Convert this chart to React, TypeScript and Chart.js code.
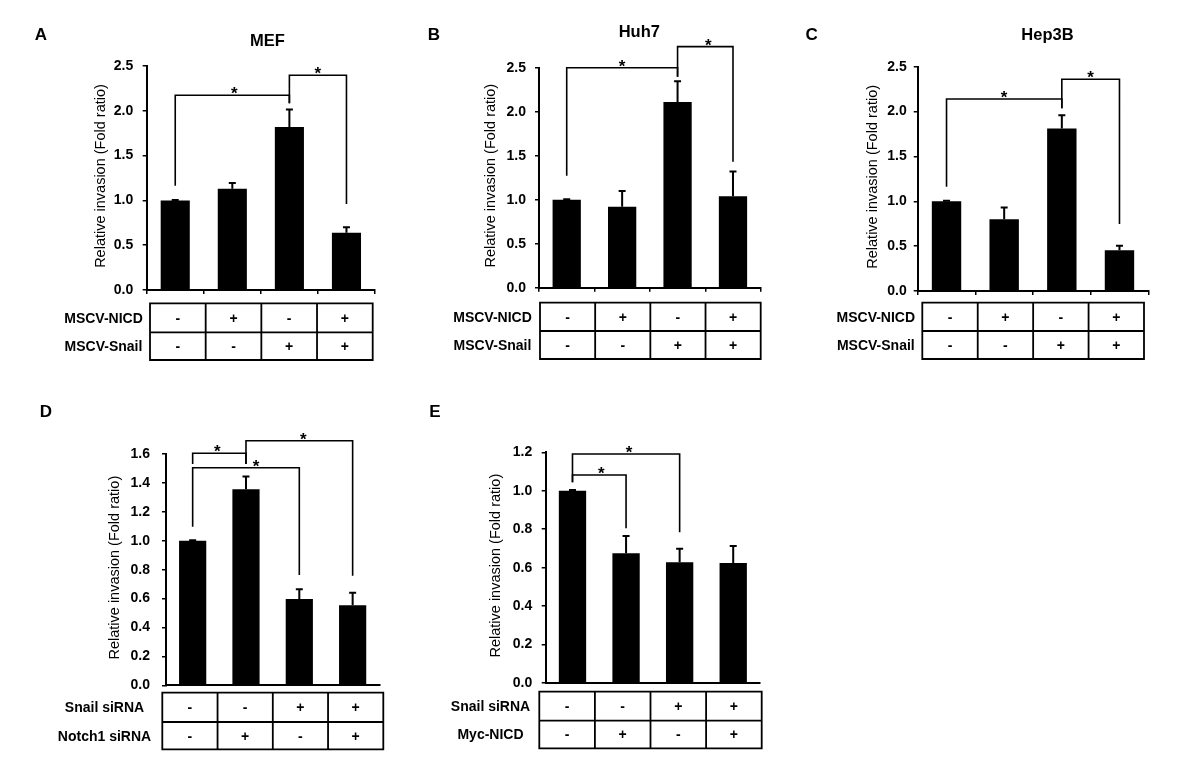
import React, { useEffect, useRef } from "react";
import { Chart, registerables } from "chart.js";

Chart.register(...registerables);

const FONT = "Arial, 'Liberation Sans', Helvetica, sans-serif";

// ---------- data ----------
const groups = ["G1", "G2", "G3", "G4"];

const mefValues = [1.0, 1.13, 1.82, 0.64];
const mefErrors = [0.005, 0.065, 0.195, 0.06];

const huh7Values = [1.0, 0.92, 2.11, 1.04];
const huh7Errors = [0.005, 0.18, 0.235, 0.28];

const hep3bValues = [1.0, 0.8, 1.81, 0.455];
const hep3bErrors = [0.005, 0.13, 0.15, 0.05];

const siRnaValues = [1.0, 1.356, 0.597, 0.553];
const siRnaErrors = [0.004, 0.088, 0.068, 0.088];

const mycValues = [1.0, 0.675, 0.628, 0.624];
const mycErrors = [0.004, 0.09, 0.07, 0.088];

const yMaxABC = 2.5;
const yStepABC = 0.5;
const yMaxD = 1.6;
const yStepD = 0.2;
const yMaxE = 1.2;
const yStepE = 0.2;

const rowsABC = ["MSCV-NICD", "MSCV-Snail"];
const nicdSigns = ["-", "+", "-", "+"];
const snailSigns = ["-", "-", "+", "+"];

const rowsD = ["Snail siRNA", "Notch1 siRNA"];
const snailSiSigns = ["-", "-", "+", "+"];
const notchSiSigns = ["-", "+", "-", "+"];

const rowsE = ["Snail siRNA", "Myc-NICD"];
const snailSiSignsE = ["-", "-", "+", "+"];
const mycNicdSigns = ["-", "+", "-", "+"];

const yAxisTitle = "Relative invasion (Fold ratio)";

// significance brackets: [fromBar, toBar, level, leftLegEnd, rightLegEnd]
const mefBrackets = [
  [0, 2, 2.173, 1.164, 2.084],
  [2, 3, 2.396, 2.084, 0.96],
];
const huh7Brackets = [
  [0, 2, 2.5, 1.273, 2.398],
  [2, 3, 2.739, 2.398, 1.432],
];
const hep3bBrackets = [
  [0, 2, 2.14, 1.163, 2.036],
  [2, 3, 2.36, 2.036, 0.747],
];
const siRnaBrackets = [
  [0, 1, 1.605, 1.531, 1.531],
  [0, 2, 1.505, 1.097, 0.763],
  [1, 3, 1.692, 1.531, 0.758],
];
const mycBrackets = [
  [0, 1, 1.082, 1.044, 0.805],
  [0, 2, 1.191, 1.044, 0.784],
];

// ---------- layout (page coordinates) ----------
type Area = { l: number; t: number; r: number; b: number };
type Table = { l: number; r: number; t: number; m: number; b: number; labelX: number };

interface PanelCfg {
  values: number[];
  errors: number[];
  yMax: number;
  yStep: number;
  rowLabels: string[];
  rowSigns: string[][];
  brackets: number[][];
  starDx: number[];
  letter: string;
  letterPos: [number, number];
  title?: string;
  titlePos?: [number, number];
  area: Area;
  yTitleX: number;
  tickPad: number;
  xTicks: boolean;
  table: Table;
}

const panels: PanelCfg[] = [
  {
    values: mefValues,
    errors: mefErrors,
    yMax: yMaxABC,
    yStep: yStepABC,
    rowLabels: rowsABC,
    rowSigns: [nicdSigns, snailSigns],
    brackets: mefBrackets,
    starDx: [2, 0],
    letter: "A",
    letterPos: [41, 35],
    title: "MEF",
    titlePos: [267.5, 41],
    area: { l: 146.7, t: 66, r: 375, b: 290 },
    yTitleX: 100.5,
    tickPad: 9.5,
    xTicks: true,
    table: { l: 150, r: 372.7, t: 303.3, m: 332.3, b: 360, labelX: 103.5 },
  },
  {
    values: huh7Values,
    errors: huh7Errors,
    yMax: yMaxABC,
    yStep: yStepABC,
    rowLabels: rowsABC,
    rowSigns: [nicdSigns, snailSigns],
    brackets: huh7Brackets,
    starDx: [0, 3],
    letter: "B",
    letterPos: [434, 35.3],
    title: "Huh7",
    titlePos: [639.3, 32.5],
    area: { l: 539, t: 67.7, r: 760.7, b: 287.7 },
    yTitleX: 490.7,
    tickPad: 9,
    xTicks: true,
    table: { l: 540, r: 760.7, t: 302.7, m: 331, b: 359, labelX: 492.5 },
  },
  {
    values: hep3bValues,
    errors: hep3bErrors,
    yMax: yMaxABC,
    yStep: yStepABC,
    rowLabels: rowsABC,
    rowSigns: [nicdSigns, snailSigns],
    brackets: hep3bBrackets,
    starDx: [0, 0],
    letter: "C",
    letterPos: [811.7, 35.3],
    title: "Hep3B",
    titlePos: [1047.5, 35.5],
    area: { l: 917.7, t: 66.7, r: 1148.3, b: 291 },
    yTitleX: 873.3,
    tickPad: 7,
    xTicks: true,
    table: { l: 922.3, r: 1144, t: 302.7, m: 331, b: 359, labelX: 875.8 },
  },
  {
    values: siRnaValues,
    errors: siRnaErrors,
    yMax: yMaxD,
    yStep: yStepD,
    rowLabels: rowsD,
    rowSigns: [snailSiSigns, notchSiSigns],
    brackets: siRnaBrackets,
    starDx: [-2, 10, 4],
    letter: "D",
    letterPos: [45.8, 412.5],
    area: { l: 166, t: 454, r: 379.3, b: 685.3 },
    yTitleX: 114.7,
    tickPad: 12,
    xTicks: false,
    table: { l: 162.3, r: 383.3, t: 692.7, m: 722, b: 749.3, labelX: 104.5 },
  },
  {
    values: mycValues,
    errors: mycErrors,
    yMax: yMaxE,
    yStep: yStepE,
    rowLabels: rowsE,
    rowSigns: [snailSiSignsE, mycNicdSigns],
    brackets: mycBrackets,
    starDx: [2, 3],
    letter: "E",
    letterPos: [435, 412],
    area: { l: 545.7, t: 452.3, r: 760, b: 683 },
    yTitleX: 496,
    tickPad: 9.5,
    xTicks: false,
    table: { l: 539.3, r: 761.7, t: 691.7, m: 720.7, b: 748.3, labelX: 490.5 },
  },
];

const W = 1200;
const H = 777;
const Y_AXIS_W = 40;
const X_AXIS_H = 6;

function makePlugin(cfg: PanelCfg) {
  return {
    id: "panelDecor" + cfg.letter,
    afterDraw(chart: any) {
      const ctx: CanvasRenderingContext2D = chart.ctx;
      const ys = chart.scales.y;
      const meta = chart.getDatasetMeta(0);
      ctx.save();
      ctx.fillStyle = "#000";
      ctx.strokeStyle = "#000";

      // error bars (upper only)
      ctx.lineWidth = 2;
      meta.data.forEach((bar: any, i: number) => {
        const x = bar.x;
        const top = ys.getPixelForValue(cfg.values[i]);
        const et = ys.getPixelForValue(cfg.values[i] + cfg.errors[i]);
        ctx.beginPath();
        ctx.moveTo(x, top);
        ctx.lineTo(x, et);
        ctx.moveTo(x - 3.5, et);
        ctx.lineTo(x + 3.5, et);
        ctx.stroke();
      });

      // brackets
      cfg.brackets.forEach((br, k) => {
        const [from, to, level, leftEnd, rightEnd] = br;
        const x1 = meta.data[from].x;
        const x2 = meta.data[to].x;
        const yl = ys.getPixelForValue(level);
        ctx.lineWidth = 1.6;
        ctx.beginPath();
        ctx.moveTo(x1, ys.getPixelForValue(leftEnd));
        ctx.lineTo(x1, yl);
        ctx.lineTo(x2, yl);
        ctx.lineTo(x2, ys.getPixelForValue(rightEnd));
        ctx.stroke();
        ctx.font = `bold 17px ${FONT}`;
        ctx.textAlign = "center";
        ctx.textBaseline = "alphabetic";
        ctx.fillText("*", (x1 + x2) / 2 + (cfg.starDx[k] || 0), yl + 4);
      });

      // y axis title
      ctx.save();
      ctx.translate(cfg.yTitleX, (cfg.area.t + cfg.area.b) / 2 - 2);
      ctx.rotate(-Math.PI / 2);
      ctx.font = `14.5px ${FONT}`;
      ctx.textAlign = "center";
      ctx.textBaseline = "middle";
      ctx.fillText(yAxisTitle, 0, 0);
      ctx.restore();

      // table
      const t = cfg.table;
      const n = cfg.values.length;
      const cw = (t.r - t.l) / n;
      ctx.lineWidth = 1.8;
      ctx.beginPath();
      ctx.rect(t.l, t.t, t.r - t.l, t.b - t.t);
      ctx.moveTo(t.l, t.m);
      ctx.lineTo(t.r, t.m);
      for (let k = 1; k < n; k++) {
        ctx.moveTo(t.l + k * cw, t.t);
        ctx.lineTo(t.l + k * cw, t.b);
      }
      ctx.stroke();
      ctx.font = `bold 14px ${FONT}`;
      ctx.textAlign = "center";
      ctx.textBaseline = "middle";
      const rowY = [(t.t + t.m) / 2 + 1, (t.m + t.b) / 2 + 1];
      cfg.rowLabels.forEach((lab, r) => {
        ctx.fillText(lab, t.labelX, rowY[r]);
        cfg.rowSigns[r].forEach((s, k) => {
          ctx.fillText(s, t.l + (k + 0.5) * cw, rowY[r]);
        });
      });

      // letter and title
      ctx.font = `bold 17px ${FONT}`;
      ctx.fillText(cfg.letter, cfg.letterPos[0], cfg.letterPos[1]);
      if (cfg.title && cfg.titlePos) {
        ctx.font = `bold 16.5px ${FONT}`;
        ctx.fillText(cfg.title, cfg.titlePos[0], cfg.titlePos[1]);
      }
      ctx.restore();
    },
  };
}

function Panel({ cfg }: { cfg: PanelCfg }) {
  const ref = useRef<HTMLCanvasElement>(null);
  useEffect(() => {
    if (!ref.current) return;
    const a = cfg.area;
    const chart = new Chart(ref.current, {
      type: "bar",
      data: {
        labels: groups,
        datasets: [
          {
            data: cfg.values,
            backgroundColor: "#000",
            borderWidth: 0,
            barPercentage: 0.51,
            categoryPercentage: 1,
          },
        ],
      },
      options: {
        responsive: false,
        animation: false,
        devicePixelRatio: 1,
        events: [],
        layout: {
          padding: {
            left: a.l - Y_AXIS_W,
            top: a.t,
            right: W - a.r,
            bottom: H - a.b - X_AXIS_H,
          },
        },
        plugins: {
          legend: { display: false },
          tooltip: { enabled: false },
          title: { display: false },
        },
        scales: {
          x: {
            offset: true,
            grid: {
              display: cfg.xTicks,
              offset: true,
              drawOnChartArea: false,
              drawTicks: true,
              tickLength: 4,
              color: "#000",
              lineWidth: 1.5,
            },
            border: { display: true, color: "#000", width: 2 },
            ticks: { display: false },
            afterFit: (s: any) => {
              s.height = X_AXIS_H;
            },
          },
          y: {
            min: 0,
            max: cfg.yMax,
            grid: {
              display: true,
              drawOnChartArea: false,
              drawTicks: true,
              tickLength: 4,
              color: "#000",
              lineWidth: 1.5,
            },
            border: { display: true, color: "#000", width: 2 },
            ticks: {
              stepSize: cfg.yStep,
              padding: cfg.tickPad,
              color: "#000",
              font: { family: FONT, size: 14, weight: "bold" },
              callback: (v: any) => Number(v).toFixed(1),
            },
            afterFit: (s: any) => {
              s.width = Y_AXIS_W;
            },
          },
        },
      } as any,
      plugins: [makePlugin(cfg)],
    });
    return () => chart.destroy();
  }, [cfg]);
  return (
    <canvas
      ref={ref}
      width={W}
      height={H}
      style={{ position: "absolute", left: 0, top: 0, width: W, height: H }}
    />
  );
}

export default function App() {
  return (
    <div
      style={{
        position: "absolute",
        left: 0,
        top: 0,
        width: W,
        height: H,
        background: "#fff",
        overflow: "hidden",
      }}
    >
      {panels.map((p) => (
        <Panel key={p.letter} cfg={p} />
      ))}
    </div>
  );
}
